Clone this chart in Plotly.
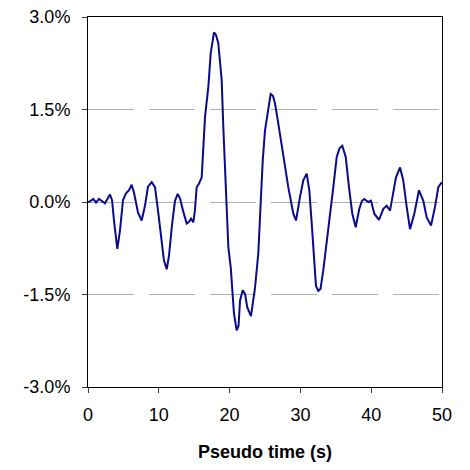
import plotly.graph_objects as go

# Pseudo time (s)
t = [0, 0.28, 0.75, 1.13, 1.55, 1.98, 2.4, 3.1, 3.4, 3.67, 4.14, 4.52, 4.94, 5.37, 5.79,
     6.17, 6.5, 7.06, 7.58, 8.05, 8.47, 9.0, 9.46, 9.89, 10.3, 10.73, 11.12, 11.44, 11.86,
     12.29, 12.67, 13.0, 13.42, 13.94, 14.27, 14.55, 14.87, 15.1, 15.35, 15.68, 16.06,
     16.29, 16.53, 17.0, 17.33, 17.8, 18.08, 18.4, 18.88, 19.11, 19.35, 19.59, 19.82,
     20.16, 20.44, 20.62, 21.0, 21.26, 21.47, 21.85, 22.18, 22.5, 23.02, 23.59, 24.05,
     24.29, 24.68, 25.0, 25.47, 25.8, 26.13, 26.41, 26.88, 27.58, 28.29, 29.0, 29.38,
     29.94, 30.41, 30.89, 31.26, 31.6, 31.96, 32.2, 32.53, 32.84, 33.23, 33.71, 34.18,
     34.65, 35.13, 35.52, 35.92, 36.4, 36.86, 37.33, 37.81, 38.32, 38.7, 39.03, 39.59,
     39.97, 40.44, 41.1, 41.71, 42.19, 42.66, 43.12, 43.5, 44.07, 44.53, 45.01, 45.48,
     46.09, 46.75, 47.36, 47.84, 48.45, 49.01, 49.48, 49.96]

# Value in percent
v_pct = [0.0, 0.01, 0.05, -0.01, 0.05, 0.01, -0.02, 0.12, 0.03, -0.30, -0.76, -0.46, 0.03,
         0.14, 0.19, 0.28, 0.15, -0.17, -0.30, -0.06, 0.25, 0.32, 0.24, -0.14, -0.59,
         -0.95, -1.09, -0.87, -0.38, 0.02, 0.13, 0.06, -0.14, -0.35, -0.32, -0.27, -0.33,
         -0.14, 0.24, 0.30, 0.40, 0.89, 1.38, 1.87, 2.41, 2.75, 2.71, 2.58, 1.98, 1.22,
         0.57, -0.08, -0.73, -1.06, -1.49, -1.81, -2.08, -2.01, -1.60, -1.43, -1.49, -1.71,
         -1.85, -1.39, -0.84, -0.19, 0.67, 1.16, 1.54, 1.75, 1.72, 1.60, 1.27, 0.73, 0.24,
         -0.19, -0.30, 0.08, 0.35, 0.46, 0.19, -0.35, -0.95, -1.36, -1.44, -1.41, -1.11,
         -0.68, -0.19, 0.24, 0.73, 0.87, 0.91, 0.73, 0.24, -0.19, -0.41, -0.11, 0.02, 0.05,
         0.00, 0.02, -0.19, -0.29, -0.11, -0.06, -0.14, 0.13, 0.40, 0.56, 0.35, -0.08,
         -0.44, -0.19, 0.19, 0.02, -0.25, -0.38, -0.08, 0.24, 0.32]

v = [p / 100 for p in v_pct]

y_ticks = [-0.03, -0.015, 0.0, 0.015, 0.03]
y_labels = ["-3.0%", "-1.5%", "0.0%", "1.5%", "3.0%"]
x_ticks = [0, 10, 20, 30, 40, 50]
x_labels = ["0", "10", "20", "30", "40", "50"]

fig = go.Figure()
fig.add_trace(go.Scatter(x=t, y=v, mode="lines",
                         line=dict(color="#0a0a8a", width=2), showlegend=False))

font = dict(family="Liberation Sans, Arial, sans-serif", size=18, color="black")

fig.update_layout(
    width=462, height=462,
    margin=dict(l=80, r=28, t=9, b=83),
    paper_bgcolor="white", plot_bgcolor="white",
    font=font,
    xaxis=dict(range=[0, 50], tickvals=x_ticks, ticktext=x_labels, showgrid=False,
               zeroline=False, automargin=False, ticklabeloverflow="allow",
               showline=True, linecolor="black", linewidth=1, mirror=True,
               ticks="outside", ticklen=5, tickcolor="#404040", ticklabelstandoff=6,
               title=dict(text="<b>Pseudo time (s)</b>", font=font, standoff=21)),
    yaxis=dict(range=[-0.03, 0.03], tickvals=y_ticks, ticktext=y_labels,
               showgrid=True, gridcolor="#b0b0b0", gridwidth=1, griddash="46px,15px",
               zeroline=False, automargin=False, ticklabeloverflow="allow",
               showline=True, linecolor="black", linewidth=1, mirror=True,
               ticks="outside", ticklen=5, tickcolor="#404040", ticklabelstandoff=8),
)

fig.write_html("out.html")
